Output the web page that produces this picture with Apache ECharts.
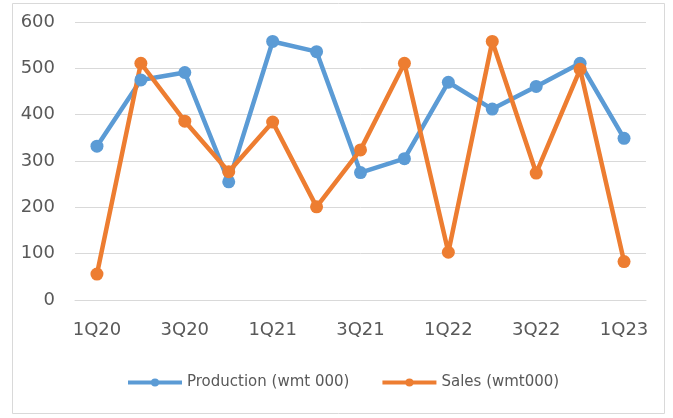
<!DOCTYPE html>
<html>
<head>
<meta charset="utf-8">
<script src="https://cdn.jsdelivr.net/npm/echarts@6/dist/echarts.min.js"></script>
<style>
  html, body { margin: 0; padding: 0; background: #fff; }
  #chart { width: 673px; height: 418px; }
</style>
</head>
<body>
<div id="chart"></div>
<script>
// Quarterly volumes, thousand wet metric tonnes
const quarters = ['1Q20', '2Q20', '3Q20', '4Q20', '1Q21', '2Q21', '3Q21', '4Q21', '1Q22', '2Q22', '3Q22', '4Q22', '1Q23'];
const production = [332, 475, 491, 255, 558, 536, 275, 305, 470, 412, 461, 511, 349];
const sales = [56, 511, 386, 277, 384, 201, 324, 511, 103, 558, 274, 498, 83];
const seriesNames = ['Production (wmt 000)', 'Sales (wmt000)'];

const chart = echarts.init(document.getElementById('chart'), null, { renderer: 'canvas' });

const font = 'DejaVu Sans';
const textColor = '#595959';

function lineSeries(name, data, color) {
  return {
    name: name,
    type: 'line',
    data: data,
    symbol: 'circle',
    symbolSize: 13,
    lineStyle: { color: color, width: 4.5 },
    itemStyle: { color: color },
    animation: false
  };
}

chart.setOption({
  backgroundColor: '#ffffff',
  graphic: [{
    type: 'rect',
    shape: { x: 12.5, y: 3.5, width: 652, height: 410 },
    style: { fill: 'none', stroke: '#D9D9D9', lineWidth: 1 },
    silent: true
  }],
  grid: { left: 75, right: 27, top: 22, bottom: 118 },
  xAxis: {
    type: 'category',
    data: quarters,
    boundaryGap: true,
    axisLine: { show: true, lineStyle: { color: '#D9D9D9', width: 1 } },
    axisTick: { show: false },
    axisLabel: { interval: 1, color: textColor, fontFamily: font, fontSize: 18, margin: 21 }
  },
  yAxis: {
    type: 'value',
    min: 0,
    max: 600,
    interval: 100,
    axisLine: { show: false },
    axisTick: { show: false },
    splitLine: { lineStyle: { color: '#D9D9D9', width: 1 } },
    axisLabel: { color: textColor, fontFamily: font, fontSize: 18, margin: 20 }
  },
  legend: {
    data: seriesNames,
    bottom: 23,
    left: 121,
    padding: 5,
    itemWidth: 54,
    itemHeight: 10,
    itemGap: 31,
    lineStyle: { width: 4 },
    textStyle: { color: textColor, fontFamily: font, fontSize: 15 }
  },
  series: [
    lineSeries(seriesNames[0], production, '#5B9BD5'),
    lineSeries(seriesNames[1], sales, '#ED7D31')
  ]
});
</script>
</body>
</html>
